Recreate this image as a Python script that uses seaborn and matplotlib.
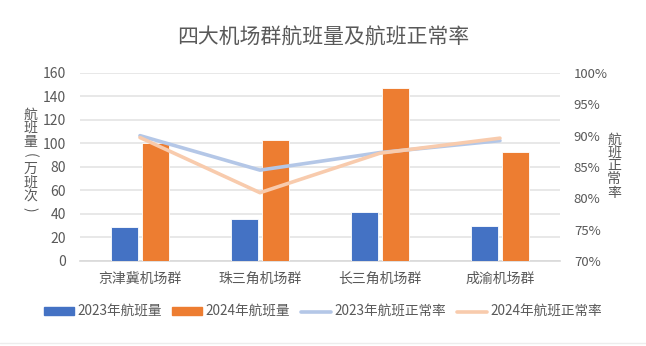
import matplotlib
matplotlib.use("Agg")
import matplotlib.pyplot as plt
from matplotlib.lines import Line2D
from matplotlib.patches import Patch
import seaborn as sns
import pandas as pd

# Data
hubs = ["京津冀机场群", "珠三角机场群", "长三角机场群", "成渝机场群"]
flights_2023 = [29, 36, 41.5, 29.5]      # 万班次
flights_2024 = [100, 103, 147, 92.5]     # 万班次
ontime_2023 = [90.0, 84.5, 87.3, 89.2]   # %
ontime_2024 = [89.7, 80.9, 87.2, 89.6]   # %
left_ticks = [0, 20, 40, 60, 80, 100, 120, 140, 160]
right_ticks = [70, 75, 80, 85, 90, 95, 100]

sns.set_theme(style="white")
plt.rcParams["font.family"] = ["Noto Sans CJK SC", "DejaVu Sans"]

BLUE = "#4472C4"
ORANGE = "#ED7D31"
LBLUE = "#B4C7E7"
LORANGE = "#F8CBAD"
TXT = "#595959"
GRID = "#E4E4E4"

bars = pd.DataFrame({
    "机场群": hubs * 2,
    "年份": ["2023年航班量"] * 4 + ["2024年航班量"] * 4,
    "航班量": flights_2023 + flights_2024,
})
rates = pd.DataFrame({
    "机场群": hubs * 2,
    "年份": ["2023年航班正常率"] * 4 + ["2024年航班正常率"] * 4,
    "正常率": ontime_2023 + ontime_2024,
})

fig = plt.figure(figsize=(6.46, 3.46), dpi=100)
ax = fig.add_axes([0.1238, 0.2457, 0.7430, 0.5434])

sns.barplot(data=bars, x="机场群", y="航班量", hue="年份",
            palette=[BLUE, ORANGE], saturation=1, width=0.52, gap=0.12,
            ax=ax, legend=False, zorder=3)
for p in ax.patches:
    p.set_edgecolor("white")
    p.set_linewidth(0.6)

ax.set_ylim(0, 160)
ax.set_yticks(left_ticks)
ax.set_xlim(-0.5, 3.5)
ax.yaxis.grid(True, color=GRID, linewidth=1.2, zorder=0)
ax.set_axisbelow(True)
for s in ["top", "left", "right"]:
    ax.spines[s].set_visible(False)
ax.spines["bottom"].set_color("#D9D9D9")
ax.spines["bottom"].set_linewidth(1.2)
ax.tick_params(axis="both", length=0, colors=TXT, labelsize=10)
ax.tick_params(axis="x", pad=8)
ax.tick_params(axis="y", pad=10)
ax.set_xlabel("")
ax.set_ylabel("")

ax2 = ax.twinx()
sns.lineplot(data=rates, x="机场群", y="正常率", hue="年份",
             palette=[LBLUE, LORANGE], linewidth=2.6, ax=ax2,
             legend=False, sort=False)
ax2.set_ylim(70, 100)
ax2.set_yticks(right_ticks)
ax2.set_yticklabels([f"{t}%" for t in right_ticks])
ax2.set_xlim(-0.5, 3.5)
for s in ["top", "left", "right", "bottom"]:
    ax2.spines[s].set_visible(False)
ax2.tick_params(axis="y", length=0, colors=TXT, labelsize=9.5, pad=10)
ax2.set_ylabel("")
ax2.grid(False)


def vertical_label(x_px, y_center_px, text, step_px=13.6):
    """Stack characters top to bottom; brackets are turned sideways."""
    n = len(text)
    y0 = y_center_px - step_px * (n - 1) / 2
    for i, ch in enumerate(text):
        rot = -90 if ch in "()" else 0
        fig.text(x_px / 646, 1 - (y0 + i * step_px) / 346, ch,
                 ha="center", va="center", fontsize=10, color=TXT,
                 rotation=rot, rotation_mode="anchor")


vertical_label(30, 162, "航班量(万班次)")
vertical_label(614, 166, "航班正常率", step_px=13.3)

fig.text(0.5, 1 - 38 / 346, "四大机场群航班量及航班正常率",
         ha="center", va="center", fontsize=15, color=TXT)

handles = [
    Patch(facecolor=BLUE, edgecolor=BLUE),
    Patch(facecolor=ORANGE, edgecolor=ORANGE),
    Line2D([0], [0], color=LBLUE, linewidth=2.6),
    Line2D([0], [0], color=LORANGE, linewidth=2.6),
]
labels = ["2023年航班量", "2024年航班量", "2023年航班正常率", "2024年航班正常率"]
fig.legend(handles, labels, loc="center", bbox_to_anchor=(0.5, 1 - 312 / 346),
           ncol=4, frameon=False, fontsize=9.8, labelcolor=TXT,
           handlelength=2.2, handleheight=0.55, handletextpad=0.25,
           columnspacing=0.8)

fig.add_artist(Line2D([0, 1], [1 - 343 / 346] * 2, color="#EDEDED",
                      linewidth=1, transform=fig.transFigure))

fig.savefig("out.png", dpi=100, facecolor="white")
